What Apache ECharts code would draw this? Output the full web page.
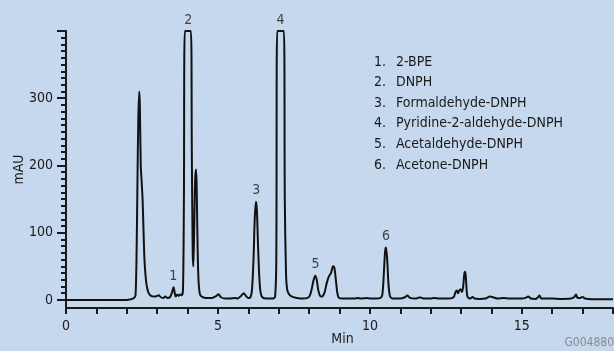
<!DOCTYPE html>
<html>
<head>
<meta charset="utf-8">
<script src="https://cdn.jsdelivr.net/npm/echarts@6/dist/echarts.min.js"></script>
<style>
html,body{margin:0;padding:0;background:#c6d8ee;}
#c{width:614px;height:351px;}
</style>
</head>
<body>
<div id="c"></div>
<script>
// Retention time (min) and absorbance (mAU)
var retentionTime = [0,1.0,2.0,2.10,2.20,2.26,2.29,2.32,2.35,2.38,2.41,2.43,2.46,2.49,2.52,2.55,2.58,2.62,2.66,2.72,2.80,2.90,3.00,3.05,3.12,3.20,3.27,3.34,3.42,3.48,3.54,3.58,3.61,3.66,3.71,3.76,3.81,3.85,3.88,3.91,4.11,4.14,4.17,4.19,4.22,4.25,4.28,4.30,4.33,4.36,4.40,4.46,4.60,4.80,4.95,5.02,5.10,5.25,5.40,5.55,5.65,5.78,5.85,5.92,6.00,6.07,6.12,6.17,6.21,6.25,6.28,6.32,6.36,6.40,6.46,6.60,6.80,6.88,6.92,6.95,7.17,7.20,7.24,7.28,7.35,7.44,7.60,7.80,7.95,8.02,8.08,8.14,8.20,8.25,8.30,8.36,8.42,8.50,8.58,8.65,8.72,8.79,8.83,8.88,8.93,8.98,9.10,9.30,9.50,9.60,9.70,9.90,10.00,10.20,10.35,10.41,10.46,10.50,10.53,10.57,10.61,10.66,10.75,11.00,11.15,11.23,11.32,11.50,11.62,11.67,11.78,12.0,12.10,12.30,12.60,12.72,12.77,12.82,12.86,12.90,12.94,12.98,13.03,13.07,13.11,13.14,13.17,13.21,13.30,13.38,13.44,13.60,13.80,13.95,14.05,14.20,14.40,14.60,14.80,15.00,15.12,15.21,15.30,15.45,15.53,15.58,15.64,15.80,16.00,16.30,16.60,16.72,16.78,16.84,16.92,17.00,17.08,17.30,17.60,18.00];
var absorbance = [0,0,0,0.5,2,4,8,60,170,270,310,290,200,175,150,105,62,35,20,10,6,5,6,7,4,3,5,3,4,10,19,10,5,8,6,8,7,15,150,400,400,220,70,50,110,180,194,170,80,30,10,5,3,3,6,8.5,4,2,2,3,2,7,10,6,3,4,15,60,120,146,135,80,35,12,4,2,2,5,60,400,400,150,40,15,8,5,3,2,3,6,15,28,36,30,15,6,5,10,25,35,40,50,48,30,10,3,2,2,2,3,2,3,2,2,3,8,40,72,78,60,25,6,2,2,4,6.5,3,2,3.5,3.5,2,2,3,2,2,3,5,12,14,10,14,16,12,20,40,42,25,5,2,4.5,2,1.5,2,5,4,2,3,2,2,2,3,5,2,1.5,4,6.5,2,2,2,1.5,2,4,8,3,3,4.5,2,1,1,1];

// Peak labels
var peakNumbers = ['1','2','3','4','5','6'];
var peakTimes = [3.53, 4.02, 6.26, 7.06, 8.21, 10.53];
var peakHeights = [19, 400, 146, 400, 36, 78];

// Compound list
var compounds = ['2-BPE','DNPH','Formaldehyde-DNPH','Pyridine-2-aldehyde-DNPH','Acetaldehyde-DNPH','Acetone-DNPH'];

// Axis ticks
var xLabelValues = [0,5,10,15];
var yLabelValues = [0,100,200,300];
var yMajorTicks = [0,100,200,300,400];
var yMinorTicks = [];
for (var v = 0; v <= 400; v += 10) yMinorTicks.push(v);

var FONT = "'Liberation Sans Narrow','DejaVu Sans Condensed','Roboto Condensed',sans-serif";
var INK = '#1a1a1a';

var trace = retentionTime.map(function(t,i){ return [t, absorbance[i]]; });
var peaks = peakTimes.map(function(t,i){ return [t, peakHeights[i], peakNumbers[i]]; });

var graphics = [];
compounds.forEach(function(name,i){
  var y = 63 + i*20.6;
  graphics.push({type:'text', left:374, top:y-8, style:{text:(i+1)+'.', font:'14px '+FONT, fill:INK}});
  graphics.push({type:'text', left:396, top:y-8, style:{text:name, font:'14px '+FONT, fill:INK}});
});
graphics.push({type:'text', right:0, top:337, style:{text:'G004880', font:'12px '+FONT, fill:'#8a8a8a'}});

var chart = echarts.init(document.getElementById('c'), null, {renderer:'canvas'});
chart.setOption({
  backgroundColor:'#c6d8ee',
  animation:false,
  grid:{left:66, right:1, top:31, bottom:43, containLabel:false, outerBoundsMode:'none'},
  xAxis:{
    type:'value', min:0, max:18, interval:1,
    name:'Min', nameLocation:'middle', nameGap:24, nameMoveOverlap:false,
    nameTextStyle:{fontFamily:FONT, fontSize:14, color:INK, padding:[0,0,0,6]},
    axisLine:{show:true, onZero:false, lineStyle:{color:INK, width:2}},
    axisTick:{show:true, length:6, lineStyle:{color:INK, width:2}},
    axisLabel:{fontFamily:FONT, fontSize:14, color:INK, margin:11,
      formatter:function(v){ return xLabelValues.indexOf(v) >= 0 ? String(v) : ''; }},
    splitLine:{show:false}
  },
  yAxis:[{
    type:'value', min:-12, max:400,
    name:'mAU', nameLocation:'middle', nameGap:40, nameMoveOverlap:false,
    nameTextStyle:{fontFamily:FONT, fontSize:14, color:INK},
    axisLine:{show:true, lineStyle:{color:INK, width:2}},
    axisTick:{show:true, length:5, customValues:yMinorTicks, lineStyle:{color:INK, width:2}},
    axisLabel:{show:false},
    splitLine:{show:false}
  },{
    type:'value', min:-12, max:400, position:'left',
    axisLine:{show:false},
    axisTick:{show:true, length:9, customValues:yMajorTicks, lineStyle:{color:INK, width:2}},
    axisLabel:{show:true, customValues:yLabelValues, fontFamily:FONT, fontSize:14, color:INK, margin:13},
    splitLine:{show:false}
  }],
  graphic:graphics,
  series:[{
    type:'line', data:trace, showSymbol:false, clip:false, smooth:0.3,
    lineStyle:{color:'#111', width:2}
  },{
    type:'scatter', data:peaks, symbolSize:0, clip:false,
    label:{show:true, position:'top', distance:4, formatter:function(p){return p.value[2];},
      fontFamily:FONT, fontSize:14, color:INK}
  }]
});
</script>
</body>
</html>
